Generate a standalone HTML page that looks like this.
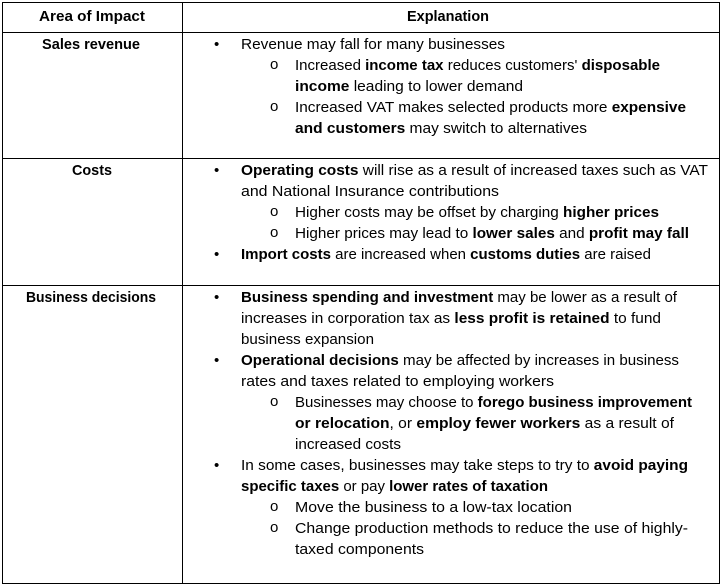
<!DOCTYPE html>
<html><head><meta charset="utf-8"><style>
html,body{margin:0;padding:0;background:#fff;}
svg{display:block;}
text{font-family:"Liberation Sans",Arial,sans-serif;font-size:15px;fill:#000;}
.b{font-weight:bold;}
</style></head><body>
<svg width="722" height="587" viewBox="0 0 722 587" xmlns="http://www.w3.org/2000/svg">
<g stroke="#000" stroke-width="1" fill="none">
<rect x="2.5" y="2.5" width="717" height="581"/>
<line x1="182.5" y1="2.5" x2="182.5" y2="583.5"/>
<line x1="2.5" y1="32.5" x2="719.5" y2="32.5"/>
<line x1="2.5" y1="158.5" x2="719.5" y2="158.5"/>
<line x1="2.5" y1="285.5" x2="719.5" y2="285.5"/>
</g>
<text class="b" x="92" y="21" text-anchor="middle" textLength="106" lengthAdjust="spacingAndGlyphs">Area of Impact</text>
<text class="b" x="448" y="21" text-anchor="middle" textLength="82" lengthAdjust="spacingAndGlyphs">Explanation</text>
<text class="b" x="91" y="49" text-anchor="middle" textLength="98" lengthAdjust="spacingAndGlyphs">Sales revenue</text>
<text class="b" x="92" y="175" text-anchor="middle" textLength="40" lengthAdjust="spacingAndGlyphs">Costs</text>
<text class="b" x="91" y="302" text-anchor="middle" textLength="130" lengthAdjust="spacingAndGlyphs">Business decisions</text>

<g>
<!-- bullets -->
<text x="214" y="49">•</text>
<text x="214" y="175">•</text>
<text x="214" y="259">•</text>
<text x="214" y="302">•</text>
<text x="214" y="365">•</text>
<text x="214" y="470">•</text>
<g style="font-size:12px">
<text x="270" y="69">o</text><text x="270" y="111">o</text>
<text x="270" y="216">o</text><text x="270" y="237">o</text>
<text x="270" y="406">o</text>
<text x="270" y="511">o</text><text x="270" y="532">o</text>
</g>
</g>

<text x="241" y="49" textLength="264" lengthAdjust="spacingAndGlyphs">Revenue may fall for many businesses</text>
<text x="295" y="70" textLength="365" lengthAdjust="spacingAndGlyphs">Increased <tspan class="b">income tax</tspan> reduces customers' <tspan class="b">disposable</tspan></text>
<text x="295" y="91" textLength="228" lengthAdjust="spacingAndGlyphs"><tspan class="b">income</tspan> leading to lower demand</text>
<text x="295" y="112" textLength="391" lengthAdjust="spacingAndGlyphs">Increased VAT makes selected products more <tspan class="b">expensive</tspan></text>
<text x="295" y="133" textLength="292" lengthAdjust="spacingAndGlyphs"><tspan class="b">and customers</tspan> may switch to alternatives</text>

<text x="241" y="175" textLength="467" lengthAdjust="spacingAndGlyphs"><tspan class="b">Operating costs</tspan> will rise as a result of increased taxes such as VAT</text>
<text x="241" y="196" textLength="258" lengthAdjust="spacingAndGlyphs">and National Insurance contributions</text>
<text x="295" y="217" textLength="364" lengthAdjust="spacingAndGlyphs">Higher costs may be offset by charging <tspan class="b">higher prices</tspan></text>
<text x="295" y="238" textLength="394" lengthAdjust="spacingAndGlyphs">Higher prices may lead to <tspan class="b">lower sales</tspan> and <tspan class="b">profit may fall</tspan></text>
<text x="241" y="259" textLength="410" lengthAdjust="spacingAndGlyphs"><tspan class="b">Import costs</tspan> are increased when <tspan class="b">customs duties</tspan> are raised</text>

<text x="241" y="302" textLength="436" lengthAdjust="spacingAndGlyphs"><tspan class="b">Business spending and investment</tspan> may be lower as a result of</text>
<text x="241" y="323" textLength="420" lengthAdjust="spacingAndGlyphs">increases in corporation tax as <tspan class="b">less profit is retained</tspan> to fund</text>
<text x="241" y="344" textLength="133" lengthAdjust="spacingAndGlyphs">business expansion</text>
<text x="241" y="365" textLength="438" lengthAdjust="spacingAndGlyphs"><tspan class="b">Operational decisions</tspan> may be affected by increases in business</text>
<text x="241" y="386" textLength="313" lengthAdjust="spacingAndGlyphs">rates and taxes related to employing workers</text>
<text x="295" y="407" textLength="397" lengthAdjust="spacingAndGlyphs">Businesses may choose to <tspan class="b">forego business improvement</tspan></text>
<text x="295" y="428" textLength="379" lengthAdjust="spacingAndGlyphs"><tspan class="b">or relocation</tspan>, or <tspan class="b">employ fewer workers</tspan> as a result of</text>
<text x="295" y="449" textLength="106" lengthAdjust="spacingAndGlyphs">increased costs</text>
<text x="241" y="470" textLength="447" lengthAdjust="spacingAndGlyphs">In some cases, businesses may take steps to try to <tspan class="b">avoid paying</tspan></text>
<text x="241" y="491" textLength="307" lengthAdjust="spacingAndGlyphs"><tspan class="b">specific taxes</tspan> or pay <tspan class="b">lower rates of taxation</tspan></text>
<text x="295" y="512" textLength="277" lengthAdjust="spacingAndGlyphs">Move the business to a low-tax location</text>
<text x="295" y="533" textLength="393" lengthAdjust="spacingAndGlyphs">Change production methods to reduce the use of highly-</text>
<text x="295" y="554" textLength="129" lengthAdjust="spacingAndGlyphs">taxed components</text>
</svg>
</body></html>
